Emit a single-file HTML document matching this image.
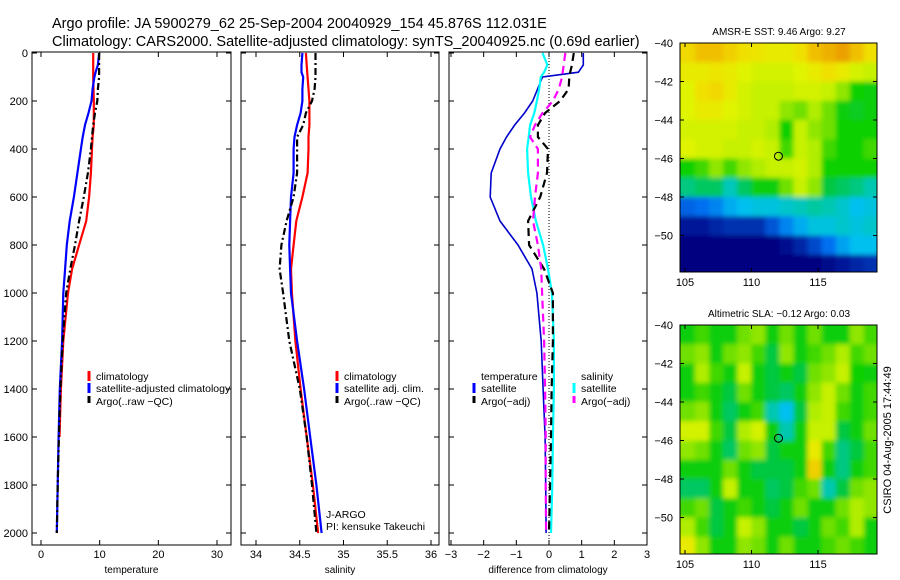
<!DOCTYPE html>
<html><head><meta charset="utf-8">
<style>
html,body{margin:0;padding:0;background:#fff;}
svg{display:block;font-family:"Liberation Sans",sans-serif;}
</style></head>
<body>
<svg id="fig" width="900" height="580" viewBox="0 0 900 580" xmlns="http://www.w3.org/2000/svg">
<defs>
<filter id="blur" x="-5%" y="-5%" width="110%" height="110%"><feGaussianBlur stdDeviation="2.5"/></filter>
<clipPath id="clipTop"><rect x="680" y="43" width="197" height="229"/></clipPath>
<clipPath id="clipBot"><rect x="680" y="325" width="197" height="229"/></clipPath>
</defs>
<text x="52" y="28" font-size="14.5">Argo profile: JA 5900279_62 25‑Sep‑2004 20040929_154 45.876S 112.031E</text>
<text x="52" y="46" font-size="14.5">Climatology: CARS2000. Satellite‑adjusted climatology: synTS_20040925.nc (0.69d earlier)</text>
<g id="g"></g>
</svg>
<script>
// ---- depth grid ----
const depths = [0,50,80,100,150,200,250,300,350,400,500,600,700,800,900,1000,1200,1400,1600,1800,2000];
// temperature panel
const tempClim =  [8.9,8.9,8.9,8.9,8.95,9.0,9.0,9.0,8.8,8.7,8.5,8.2,7.7,6.5,5.3,4.6,3.8,3.4,3.15,null,null];
const tempSat =   [9.9,9.7,9.3,9.1,8.8,8.6,8.1,7.5,7.1,6.8,6.2,5.6,4.9,4.4,4.1,3.8,3.6,3.2,3.0,2.85,2.7];
const tempArgo =  [9.9,9.9,9.9,9.9,9.7,9.6,9.2,8.9,8.7,8.5,8.0,7.3,6.5,5.8,5.0,4.3,3.7,3.3,3.05,2.85,2.7];
// salinity panel
const salClim = [34.57,34.58,34.585,34.59,34.60,34.61,34.61,34.61,34.60,34.60,34.59,34.53,34.46,34.43,34.40,34.41,34.45,34.51,34.58,34.65,34.71];
const salSat  = [34.53,34.52,34.52,34.54,34.53,34.53,34.51,34.47,34.44,34.43,34.43,34.40,34.39,34.38,34.39,34.40,34.47,34.55,34.62,34.69,34.75];
const salArgo = [34.68,34.68,34.68,34.68,34.67,34.64,34.57,34.54,34.47,34.47,34.47,34.43,34.35,34.29,34.27,34.31,34.38,34.50,34.58,34.64,34.69];
// difference panel
const dTempSat  = [1.05,1.05,0.9,-0.2,-0.35,-0.5,-0.75,-1.05,-1.3,-1.5,-1.77,-1.8,-1.5,-0.95,-0.52,-0.37,-0.24,-0.18,-0.12,-0.1,-0.09];
const dSalSat   = [-0.2,-0.05,-0.15,-0.25,-0.3,-0.37,-0.45,-0.58,-0.62,-0.67,-0.64,-0.55,-0.4,-0.18,-0.03,0.09,0.15,0.15,0.12,0.1,0.06];
const dTempArgo = [0.76,0.7,0.65,0.62,0.6,0.34,-0.12,-0.34,-0.34,-0.03,-0.06,-0.27,-0.64,-0.61,-0.15,0.12,0.12,0.08,0.06,0.03,0.0];
const dSalArgo  = [0.5,0.45,0.42,0.4,0.3,0.12,-0.2,-0.43,-0.58,-0.34,-0.34,-0.43,-0.49,-0.34,-0.24,-0.21,-0.15,-0.12,-0.1,-0.1,-0.09];
// tick labels
const depthTicks = [0,200,400,600,800,1000,1200,1400,1600,1800,2000];
const tempTicks = [0,10,20,30];
const salTicks = [34,34.5,35,35.5,36];
const diffTicks = [-3,-2,-1,0,1,2,3];
const lonTicks = [105,110,115];
const latTicks = [-40,-42,-44,-46,-48,-50];
// map grids (colormap fraction), rows -40 -> -52, cols 104.7 -> 119.4
const sstGrid = [
[.75,.78,.78,.76,.74,.73,.72,.72,.74,.78,.80,.82,.78,.74],
[.72,.72,.73,.72,.70,.68,.68,.68,.70,.72,.74,.72,.68,.66],
[.70,.74,.75,.72,.68,.66,.66,.66,.68,.68,.66,.62,.56,.55],
[.70,.72,.72,.70,.68,.66,.66,.62,.60,.64,.60,.55,.54,.55],
[.68,.68,.68,.68,.66,.66,.64,.56,.66,.62,.60,.56,.56,.56],
[.70,.68,.68,.66,.66,.68,.66,.58,.66,.64,.58,.56,.56,.58],
[.56,.58,.62,.58,.62,.64,.66,.66,.68,.64,.56,.56,.56,.56],
[.48,.50,.50,.44,.50,.55,.55,.60,.66,.62,.52,.50,.48,.45],
[.28,.30,.32,.36,.38,.40,.40,.42,.44,.46,.45,.42,.38,.40],
[.15,.15,.18,.20,.20,.20,.26,.32,.36,.40,.40,.42,.40,.42],
[.10,.10,.10,.10,.10,.10,.10,.13,.18,.24,.30,.35,.38,.38],
[.10,.10,.10,.10,.10,.10,.10,.10,.10,.10,.12,.15,.18,.20]];
const slaGrid = [
[.55,.58,.55,.55,.60,.62,.55,.60,.55,.60,.55,.55,.62,.58],
[.60,.62,.55,.60,.62,.58,.52,.62,.55,.58,.60,.64,.58,.60],
[.55,.64,.58,.55,.66,.55,.52,.55,.52,.60,.62,.66,.56,.55],
[.55,.58,.55,.52,.60,.55,.52,.50,.55,.62,.66,.60,.55,.58],
[.60,.62,.55,.50,.55,.58,.45,.38,.52,.64,.66,.58,.55,.58],
[.68,.68,.58,.52,.64,.68,.55,.45,.55,.66,.66,.52,.55,.60],
[.62,.60,.55,.50,.60,.62,.52,.55,.55,.72,.58,.48,.52,.58],
[.55,.55,.55,.60,.55,.52,.52,.52,.55,.76,.55,.48,.55,.58],
[.50,.50,.55,.66,.55,.55,.50,.52,.58,.60,.45,.52,.60,.62],
[.58,.60,.52,.55,.58,.55,.52,.55,.60,.55,.55,.60,.64,.62],
[.64,.58,.52,.55,.66,.62,.55,.55,.52,.55,.60,.58,.64,.55],
[.72,.62,.55,.55,.62,.60,.55,.60,.55,.55,.58,.60,.58,.55]];

const NS='http://www.w3.org/2000/svg';
const G=document.getElementById('g');
function el(tag,attrs,parent){const e=document.createElementNS(NS,tag);for(const k in attrs)e.setAttribute(k,attrs[k]);(parent||G).appendChild(e);return e;}
function txt(x,y,s,size,anchor,parent){const t=el('text',{x:x,y:y,'font-size':size,'text-anchor':anchor||'start'},parent);t.textContent=s;return t;}

const top0=52,bot0=545;
const yD=d=>53+d*0.24;
function xLin(a,b,pa,pb){return v=>pa+(v-a)*(pb-pa)/(b-a);}
const panels=[
 {x0:32,x1:231,xs:xLin(0,30,41,217),ticks:tempTicks,label:'temperature',name:'temperature-panel',labels:true},
 {x0:241,x1:439,xs:xLin(34,36,256,431),ticks:salTicks,label:'salinity',name:'salinity-panel',labels:false},
 {x0:449,x1:647,xs:xLin(-3,3,451,647),ticks:diffTicks,label:'difference from climatology',name:'difference-panel',labels:false}];

function drawLine(p,vals,color,dash,name,w){
  let d='';let started=false;
  vals.forEach((v,i)=>{if(v===null)return;d+=(started?'L':'M')+p.xs(v).toFixed(1)+','+yD(depths[i]).toFixed(1);started=true;});
  const a={d:d,fill:'none',stroke:color,'stroke-width':w||2.2};
  if(dash)a['stroke-dasharray']=dash;
  const path=el('path',a,p.g);
  
  
}

panels.forEach((p,pi)=>{
  const g=el('g',{});
  
  
  p.g=g;
  el('rect',{x:p.x0,y:top0,width:p.x1-p.x0,height:bot0-top0,fill:'#fff',stroke:'#000','stroke-width':1},g);
  depthTicks.forEach(d=>{const y=yD(d);
    el('line',{x1:p.x0,x2:p.x0+5,y1:y,y2:y,stroke:'#000'},g);
    el('line',{x1:p.x1-5,x2:p.x1,y1:y,y2:y,stroke:'#000'},g);
    if(p.labels){const t=txt(28,y+4,String(d),11,'end',g);}
  });
  p.ticks.forEach(v=>{const x=p.xs(v);
    el('line',{x1:x,x2:x,y1:top0,y2:top0+5,stroke:'#000'},g);
    el('line',{x1:x,x2:x,y1:bot0-5,y2:bot0,stroke:'#000'},g);
    const t=txt(x,558,String(v).replace('-','−'),11,'middle',g);
    
    
  });
  const xl=txt((p.x0+p.x1)/2,573,p.label,10,'middle',g);
  
  
});

drawLine(panels[0],tempClim,'#f00',null,'temp-climatology-line');
drawLine(panels[0],tempSat,'#00f',null,'temp-satellite-line');
drawLine(panels[0],tempArgo,'#000','7,3,2,3','temp-argo-line');
drawLine(panels[1],salClim,'#f00',null,'sal-climatology-line');
drawLine(panels[1],salSat,'#00f',null,'sal-satellite-line');
drawLine(panels[1],salArgo,'#000','7,3,2,3','sal-argo-line');
{const p=panels[2];const x=p.xs(0);
 const z=el('line',{x1:x,x2:x,y1:top0,y2:bot0,stroke:'#000','stroke-dasharray':'1,2'},p.g);
 }
drawLine(panels[2],dTempSat,'#00c',null,'diff-temp-satellite-line',1.6);
drawLine(panels[2],dSalSat,'#0ff',null,'diff-sal-satellite-line',2.2);
drawLine(panels[2],dTempArgo,'#000','8,5','diff-temp-argo-line');
drawLine(panels[2],dSalArgo,'#f0f','8,5','diff-sal-argo-line');

function legend(x,y,color,label,dashed){
  const g=el('g',{});
  
  
  el('line',{x1:x,x2:x,y1:y-9,y2:y+1,stroke:color,'stroke-width':3,'stroke-dasharray':dashed?'7,3':'none'},g);
  txt(x+7,y,label,10.5,'start',g);
}
legend(89,380,'#f00','climatology');
legend(89,392,'#00f','satellite‑adjusted climatology');
legend(89,405,'#000','Argo(..raw −QC)',true);
legend(337,380,'#f00','climatology');
legend(337,392,'#00f','satellite adj. clim.');
legend(337,405,'#000','Argo(..raw −QC)',true);
{const t=txt(481,380,'temperature',10.5);}
legend(474,392,'#00f','satellite');
legend(474,405,'#000','Argo(−adj)',true);
{const t=txt(581,380,'salinity',10.5);}
legend(574,392,'#0ff','satellite');
legend(574,405,'#f0f','Argo(−adj)',true);
{const t=txt(326,518,'J‑ARGO',10.5);
 const t2=txt(326,530,'PI: kensuke Takeuchi',10.5);}

// colormap matched to reference
const cmStops=[[0.10,[0,0,128]],[0.20,[0,48,176]],[0.30,[0,112,240]],[0.38,[0,192,240]],[0.45,[0,200,176]],[0.52,[0,200,64]],[0.56,[16,208,0]],[0.60,[112,224,0]],[0.65,[192,240,0]],[0.70,[224,244,0]],[0.74,[240,224,0]],[0.78,[240,192,0]],[0.84,[232,144,0]]];
function cmap(v){
  if(v<=cmStops[0][0])return 'rgb('+cmStops[0][1].join(',')+')';
  for(let i=1;i<cmStops.length;i++){
    if(v<=cmStops[i][0]){const a=cmStops[i-1],b=cmStops[i];const f=(v-a[0])/(b[0]-a[0]);
      return 'rgb('+a[1].map((c,k)=>Math.round(c+(b[1][k]-c)*f)).join(',')+')';}
  }
  return 'rgb('+cmStops[cmStops.length-1][1].join(',')+')';
}
const lonX=xLin(105,115,685,818);
function drawMap(y0,grid,clip,title,name){
  const g=el('g',{});
  
  
  const latY=xLin(-40,-50,y0,y0+192.5);
  const cells=el('g',{'clip-path':'url(#'+clip+')'},g);
  const inner=el('g',{filter:'url(#blur)'},cells);
  const lon0=104.7,lon1=119.5,nC=grid[0].length,nR=grid.length;
  const cw=(lon1-lon0)/nC;
  grid.forEach((row,ri)=>row.forEach((v,ci)=>{
    const xa=lonX(lon0+ci*cw)-(ci===0?8:0),xb=lonX(lon0+(ci+1)*cw)+(ci===nC-1?8:0);
    const ya=latY(-40-ri)-(ri===0?8:0),yb=latY(-41-ri)+(ri===nR-1?12:0);
    const r=el('rect',{x:xa,y:ya,width:xb-xa+0.5,height:yb-ya+0.5,fill:cmap(v)},inner);
    
    
  }));
  el('rect',{x:680,y:y0,width:197,height:229,fill:'none',stroke:'#000'},g);
  latTicks.forEach(l=>{const y=latY(l);
    el('line',{x1:680,x2:684,y1:y,y2:y,stroke:'#000'},g);
    el('line',{x1:873,x2:877,y1:y,y2:y,stroke:'#000'},g);
    const t=txt(673,y+4,String(l).replace('-','−'),11,'end',g);
    });
  lonTicks.forEach(l=>{const x=lonX(l);
    el('line',{x1:x,x2:x,y1:y0,y2:y0+4,stroke:'#000'},g);
    el('line',{x1:x,x2:x,y1:y0+225,y2:y0+229,stroke:'#000'},g);
    const t=txt(x,y0+243,String(l),11,'middle',g);
    });
  const c=el('circle',{cx:lonX(112.03),cy:latY(-45.88),r:4,fill:'none',stroke:'#000','stroke-width':1},g);
  
  const t=txt(779,y0-8,title,10,'middle',g);
  
}
drawMap(43,sstGrid,'clipTop','AMSR‑E SST: 9.46 Argo: 9.27','sst-map');
drawMap(325,slaGrid,'clipBot','Altimetric SLA: −0.12 Argo: 0.03','sla-map');
{const t=txt(0,0,'CSIRO 04‑Aug‑2005 17:44:49',11,'middle');
 t.setAttribute('transform','translate(891,440) rotate(-90)');
 }
</script>
</body></html>
